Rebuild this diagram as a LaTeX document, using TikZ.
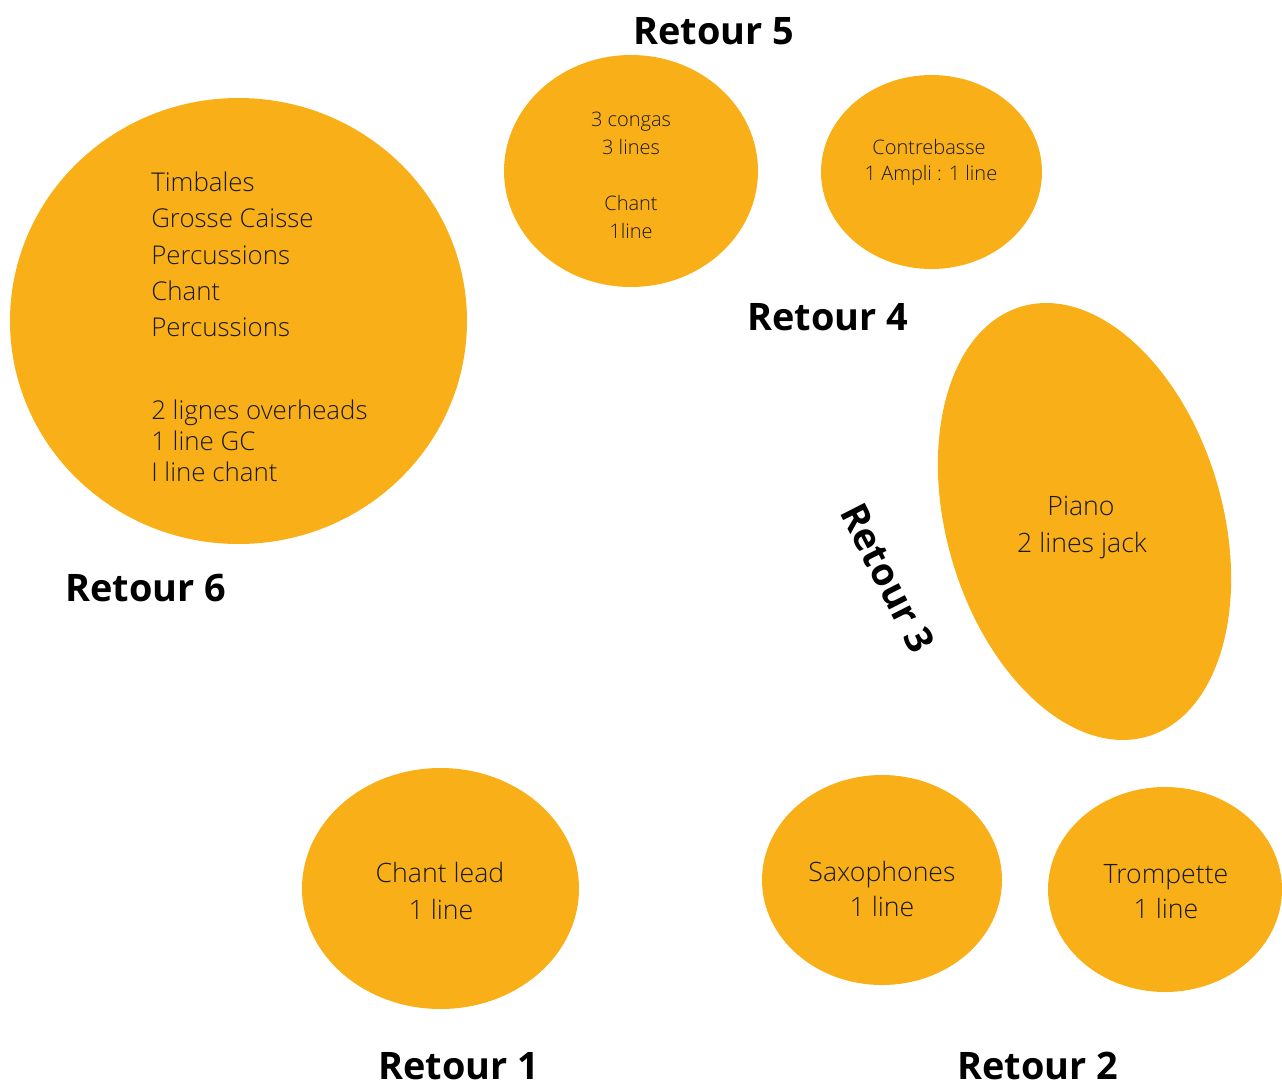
\documentclass[tikz,border=0pt]{standalone}
\usepackage{fontspec}
\setmainfont{Open Sans}
\IfFontExistsTF{Open Sans Light}{\newfontfamily\lightfont{Open Sans Light}}{\newfontfamily\lightfont{Open Sans}}
\usetikzlibrary{shapes.geometric}
\definecolor{stage}{RGB}{249,176,24}
\def\u{0.75pt}
\tikzset{
  blob/.style={ellipse, fill=stage, draw=none, inner sep=0pt},
  body/.style={font=\lightfont\fontsize{20}{24}\selectfont, text=black!90, inner sep=0pt},
  bodydrum/.style={font=\lightfont\fontsize{19.4}{24}\selectfont, text=black!90, inner sep=0pt, anchor=base west},
  small/.style={font=\lightfont\fontsize{15}{18}\selectfont, text=black!90, inner sep=0pt},
  retour/.style={font=\bfseries\fontsize{28.4}{32}\selectfont, text=black, inner sep=0pt},
}
\begin{document}
\begin{tikzpicture}[x=0.75pt, y=-0.75pt]
\useasboundingbox (0,0) rectangle (1282,1082);
% ellipses
\node[blob, minimum width=457*\u, minimum height=446*\u] (drums) at (238.5,321) {};
\node[blob, minimum width=254*\u, minimum height=232*\u] (congas) at (631,171) {};
\node[blob, minimum width=221*\u, minimum height=194*\u] (bass) at (931.5,172) {};
\node[blob, minimum width=276*\u, minimum height=448*\u, rotate=16.3] (piano) at (1084.5,521.5) {};
\node[blob, minimum width=277*\u, minimum height=241*\u] (lead) at (440.5,888.5) {};
\node[blob, minimum width=240*\u, minimum height=210*\u] (sax) at (882,880) {};
\node[blob, minimum width=234*\u, minimum height=205*\u] (tpt) at (1165,889.5) {};
% drums text
\node[bodydrum] (d1) at (151,191) {Timbales};
\node[bodydrum] (d2) at (151,227) {Grosse Caisse};
\node[bodydrum] (d3) at (151,264) {Percussions};
\node[bodydrum] (d4) at (151,300) {Chant};
\node[bodydrum] (d5) at (151,336) {Percussions};
\node[bodydrum] (d6) at (151,419) {2 lignes overheads};
\node[bodydrum] (d7) at (151,450) {1 line GC};
\node[bodydrum] (d8) at (151,481) {I line chant};
% congas text
\node[small, anchor=base] (c1) at (631,126) {3 congas};
\node[small, anchor=base] (c2) at (631,154) {3 lines};
\node[small, anchor=base] (c3) at (631,210) {Chant};
\node[small, anchor=base] (c4) at (631,238) {1line};
% bass text
\node[small, anchor=base] (b1) at (929,154) {Contrebasse};
\node[small, anchor=base] (b2) at (931,180) {1 Ampli : 1 line};
% piano text
\node[body, anchor=base] (p1) at (1081,515) {Piano};
\node[body, anchor=base] (p2) at (1082,552) {2 lines jack};
% lead text
\node[body, anchor=base] (l1) at (440,882) {Chant lead};
\node[body, anchor=base] (l2) at (441,919) {1 line};
% sax text
\node[body, anchor=base] (s1) at (882,881) {Saxophones};
\node[body, anchor=base] (s2) at (882,916) {1 line};
% trumpet text
\node[body, anchor=base] (t1) at (1166,883) {Trompette};
\node[body, anchor=base] (t2) at (1166,918) {1 line};
% retour labels
\node[retour, anchor=base] (r5) at (714,44) {Retour 5};
\node[retour, anchor=base] (r4) at (828,330) {Retour 4};
\node[retour, anchor=base] (r6) at (146,601) {Retour 6};
\node[retour, anchor=base] (r1) at (459,1079) {Retour 1};
\node[retour, anchor=base] (r2) at (1038,1079) {Retour 2};
\node[retour, rotate=-63] (r3) at (888,578) {Retour 3};
\end{tikzpicture}
\end{document}
